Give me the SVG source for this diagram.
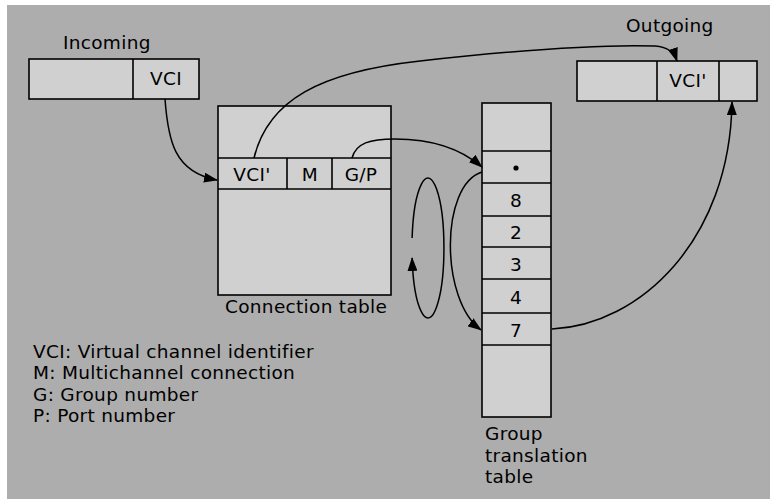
<svg xmlns="http://www.w3.org/2000/svg" width="770" height="499" viewBox="0 0 770 499">
<style>
.box{fill:#d0d0d0;stroke:#000;stroke-width:1.6}
.ln{stroke:#000;stroke-width:1.6;fill:none}
.t{font-family:"DejaVu Sans","Open Sans",sans-serif;font-size:18.5px;letter-spacing:0.3px;fill:#000}
.c{text-anchor:middle}
.conn{fill:none;stroke:#000;stroke-width:1.5;marker-end:url(#ah)}
</style>
<defs>
<marker id="ah" viewBox="0 0 14 10" refX="13" refY="5" markerWidth="14" markerHeight="10" markerUnits="userSpaceOnUse" orient="auto">
<path d="M0,0 L14,5 L0,10 Z" fill="#000"/>
</marker>
</defs>
<rect x="0" y="0" width="770" height="499" fill="#fff"/>
<rect x="7" y="5" width="763" height="494" fill="#adadad"/>

<g id="incoming">
<text class="t" x="63" y="49">Incoming</text>
<rect class="box" x="29" y="59" width="170" height="40"/>
<line class="ln" x1="133" y1="59" x2="133" y2="99"/>
<text class="t c" x="166" y="85">VCI</text>
</g>

<g id="connection-table">
<rect class="box" x="218" y="106" width="173" height="189"/>
<line class="ln" x1="218" y1="158" x2="391" y2="158"/>
<line class="ln" x1="218" y1="189" x2="391" y2="189"/>
<line class="ln" x1="287" y1="158" x2="287" y2="189"/>
<line class="ln" x1="332" y1="158" x2="332" y2="189"/>
<text class="t c" x="252" y="181">VCI'</text>
<text class="t c" x="310" y="181">M</text>
<text class="t c" x="361" y="181">G/P</text>
<text class="t" x="225" y="313">Connection table</text>
</g>

<g id="outgoing">
<text class="t" x="626" y="32">Outgoing</text>
<rect class="box" x="577" y="61" width="180" height="40"/>
<line class="ln" x1="657" y1="61" x2="657" y2="101"/>
<line class="ln" x1="719" y1="61" x2="719" y2="101"/>
<text class="t c" x="688" y="87">VCI'</text>
</g>

<g id="group-translation-table">
<rect class="box" x="482" y="103" width="69" height="314"/>
<line class="ln" x1="482" y1="151" x2="551" y2="151"/>
<line class="ln" x1="482" y1="183" x2="551" y2="183"/>
<line class="ln" x1="482" y1="216" x2="551" y2="216"/>
<line class="ln" x1="482" y1="247" x2="551" y2="247"/>
<line class="ln" x1="482" y1="279" x2="551" y2="279"/>
<line class="ln" x1="482" y1="313" x2="551" y2="313"/>
<line class="ln" x1="482" y1="345" x2="551" y2="345"/>
<circle cx="516" cy="168" r="2.6" fill="#000"/>
<text class="t c" x="516" y="207">8</text>
<text class="t c" x="516" y="239">2</text>
<text class="t c" x="516" y="271">3</text>
<text class="t c" x="516" y="304">4</text>
<text class="t c" x="516" y="337">7</text>
<text class="t" x="485" y="440">Group</text>
<text class="t" x="485" y="461.5">translation</text>
<text class="t" x="485" y="483">table</text>
</g>

<g id="legend">
<text class="t" x="33" y="357.5">VCI: Virtual channel identifier</text>
<text class="t" x="33" y="379">M: Multichannel connection</text>
<text class="t" x="33" y="400.5">G: Group number</text>
<text class="t" x="33" y="422">P: Port number</text>
</g>

<g id="connectors">
<path class="conn" d="M165,99 C168,140 174,172 217,180"/>
<path class="conn" d="M254,158 C268,100 320,72 420,61 C520,50 600,44 655,46 C668,47 674,52 677,61"/>
<path class="conn" d="M352,158 C356,143 370,139 395,139 C430,139 460,148 482,167"/>
<path class="conn" d="M482,172 C440,185 440,300 481,330"/>
<path class="conn" d="M412.1,238 A16,70 0 1 1 412.1,258"/>
<path class="conn" d="M552,329 C640,325 730,240 732,102"/>
</g>
</svg>
